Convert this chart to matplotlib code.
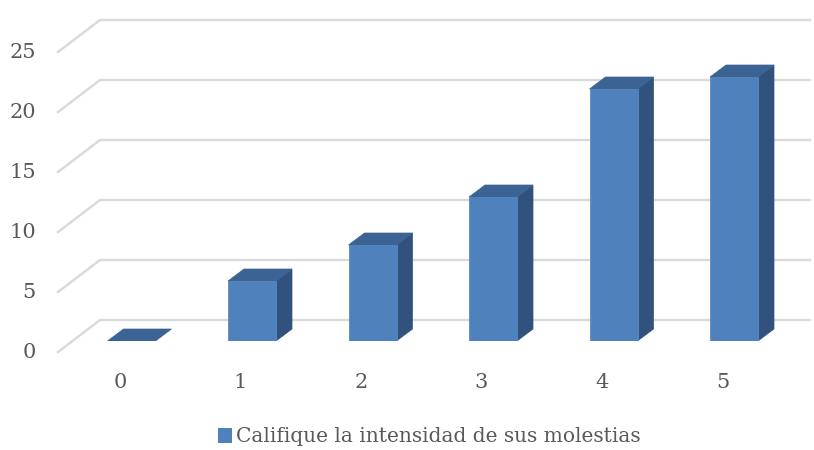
import matplotlib
matplotlib.use('Agg')
import matplotlib.pyplot as plt
from matplotlib.patches import Polygon, Patch

categorias = ['0', '1', '2', '3', '4', '5']
valores = [0, 5, 8, 12, 21, 22]
ticks_y = [0, 5, 10, 15, 20, 25]
serie = 'Califique la intensidad de sus molestias'

c_frente = '#4F81BD'
c_techo = '#3B6394'
c_lado = '#30527C'
c_grid = '#D9D9D9'
c_texto = '#595959'

plt.rcParams['font.family'] = ['DejaVu Serif']

W, H = 814, 450
fig = plt.figure(figsize=(W / 100, H / 100), dpi=100)
# ejes en el plano frontal de las barras
ax = fig.add_axes([71.25 / W, 109 / H, 723 / W, 300 / H])
ax.set_xlim(-0.5, len(categorias) - 0.5)
ax.set_ylim(0, 25)
ax.axis('off')

# pixeles por unidad de datos
px_x = 723 / len(categorias)
px_y = 300 / 25


def px(dx, dy):
    return dx / px_x, dy / px_y


# rejilla: pared del fondo y diagonal hacia el frente
x_fondo0 = (100 - 71.25) / px_x - 0.5
x_fondo1 = (810 - 71.25) / px_x - 0.5
x_frente = (58 - 71.25) / px_x - 0.5
for v in ticks_y:
    y_fondo = v + 21 / px_y
    y_frente = v - 11 / px_y
    ax.plot([x_frente, x_fondo0, x_fondo1], [y_frente, y_fondo, y_fondo],
            color=c_grid, lw=1.7, clip_on=False, zorder=1)
    ax.text(x_frente - 22 / px_x, y_frente, str(v), ha='right', va='center',
            fontsize=15, color=c_texto)

# barras con profundidad
ancho = 48 / px_x
ddx, ddy = px(16, 12)
for i, h in enumerate(valores):
    x0 = i - ancho / 2
    x1 = i + ancho / 2
    if h > 0:
        ax.bar(i, h, width=ancho, color=c_frente, edgecolor='#5A8BC6',
               linewidth=0.6, zorder=3)
        lado = [(x1, 0), (x1 + ddx, ddy), (x1 + ddx, h + ddy), (x1, h)]
        ax.add_patch(Polygon(lado, closed=True, facecolor=c_lado,
                             edgecolor=c_lado, lw=0.5, zorder=2))
    techo = [(x0, h), (x1, h), (x1 + ddx, h + ddy), (x0 + ddx, h + ddy)]
    ax.add_patch(Polygon(techo, closed=True, facecolor=c_techo,
                         edgecolor=c_techo, lw=0.5, zorder=4))
    ax.text(i - 11.5 / px_x, -42 / px_y, categorias[i], ha='center',
            va='center', fontsize=15, color=c_texto)

fig.legend(handles=[Patch(facecolor=c_frente, label=serie)],
           loc='center', bbox_to_anchor=(429.5 / W, 1 - 437 / H),
           frameon=False, fontsize=14.5, labelcolor=c_texto,
           handlelength=0.7, handleheight=0.7, handletextpad=0.2)

fig.savefig('out.png', dpi=100)
